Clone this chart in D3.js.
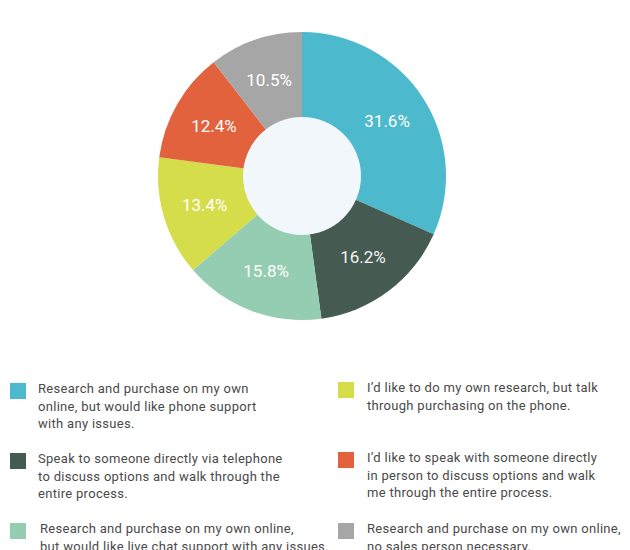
<!DOCTYPE html>
<html>
<head>
<meta charset="utf-8">
<script src="https://cdn.jsdelivr.net/npm/d3@7"></script>
<style>
  body { margin: 0; background: #fff; }
  svg { display: block; }
</style>
</head>
<body>
<svg id="chart" width="630" height="550"></svg>
<script>
// slice values, clockwise from 12 o'clock
const values = [31.6, 16.2, 15.8, 13.4, 12.4, 10.5];
const colors = ["#4db9cd", "#455a50", "#95cdb2", "#d6dd4b", "#e1623c", "#a6a6a6"];
const labels = ["31.6%", "16.2%", "15.8%", "13.4%", "12.4%", "10.5%"];

// legend, drawn in two columns
const legendLeft = [
  ["Research and purchase on my own", "online, but would like phone support", "with any issues."],
  ["Speak to someone directly via telephone", "to discuss options and walk through the", "entire process."],
  ["Research and purchase on my own online,", "but would like live chat support with any issues."]
];
const legendRight = [
  ["I\u2019d like to do my own research, but talk", "through purchasing on the phone."],
  ["I\u2019d like to speak with someone directly", "in person to discuss options and walk", "me through the entire process."],
  ["Research and purchase on my own online,", "no sales person necessary."]
];
const legendColorsLeft = [colors[0], colors[1], colors[2]];
const legendColorsRight = [colors[3], colors[4], colors[5]];

const svg = d3.select("#chart");

const cx = 302, cy = 176;
const outerR = 144, innerR = 59;

const pie = d3.pie().sort(null).value(d => d);
const arc = d3.arc().innerRadius(0).outerRadius(outerR);
const labelArc = d3.arc().innerRadius(innerR).outerRadius(outerR);

const g = svg.append("g").attr("transform", `translate(${cx},${cy})`);

const arcs = pie(values);

g.selectAll("path")
  .data(arcs)
  .enter()
  .append("path")
  .attr("d", arc)
  .attr("fill", (d, i) => colors[i]);

g.append("circle")
  .attr("r", innerR)
  .attr("fill", "#f1f7fa");

g.selectAll("text.pct")
  .data(arcs)
  .enter()
  .append("text")
  .attr("class", "pct")
  .attr("transform", d => `translate(${labelArc.centroid(d)})`)
  .attr("text-anchor", "middle")
  .attr("dy", "0.36em")
  .attr("fill", (d, i) => i === 1 ? "#f4f4f4" : "#ffffff")
  .style("font-family", "Roboto, 'Liberation Sans', sans-serif")
  .style("font-size", "17px")
  .text((d, i) => labels[i]);

// Legend
function drawLegend(items, cols, x, textX, rowYs) {
  items.forEach((lines, i) => {
    const y0 = rowYs[i];
    svg.append("rect")
      .attr("x", x)
      .attr("y", y0)
      .attr("width", 16)
      .attr("height", 16)
      .attr("fill", cols[i]);
    const t = svg.append("text")
      .attr("x", textX[i])
      .attr("y", y0 + 10)
      .attr("fill", "#4a4a4a")
      .style("font-family", "Roboto, 'Liberation Sans', sans-serif")
      .style("font-size", "13px")
      .style("letter-spacing", "0.3px");
    lines.forEach((ln, j) => {
      t.append("tspan")
        .attr("x", textX[i])
        .attr("dy", j === 0 ? 0 : 17.5)
        .text(ln);
    });
  });
}

drawLegend(legendLeft, legendColorsLeft, 10, [38, 38, 40], [383, 453, 523]);
drawLegend(legendRight, legendColorsRight, 338, [367, 367, 367], [382, 452, 523]);
</script>
</body>
</html>
